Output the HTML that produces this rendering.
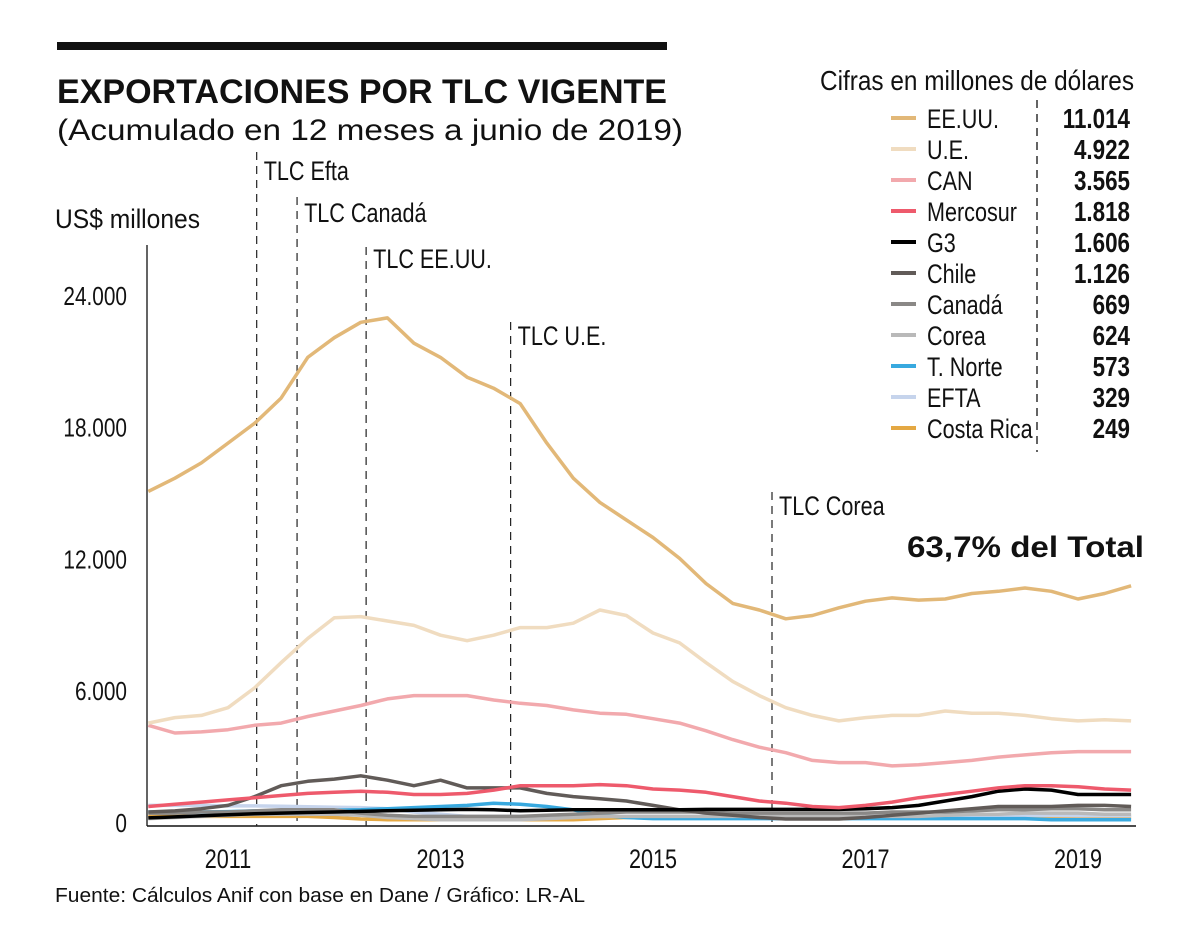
<!DOCTYPE html>
<html><head><meta charset="utf-8"><style>
html,body{margin:0;padding:0;background:#fff}
svg{display:block}
text{font-family:"Liberation Sans Narrow","Liberation Sans",sans-serif;fill:#111}
</style></head><body>
<svg id="chart" width="1200" height="950" viewBox="0 0 1200 950">
<rect x="57" y="42" width="610" height="8" fill="#111"/>
<text x="57" y="103" font-size="34" font-weight="bold" textLength="610" lengthAdjust="spacingAndGlyphs">EXPORTACIONES POR TLC VIGENTE</text>
<text x="57" y="140" font-size="30" textLength="626" lengthAdjust="spacingAndGlyphs">(Acumulado en 12 meses a junio de 2019)</text>
<text x="55" y="228" font-size="27" textLength="145" lengthAdjust="spacingAndGlyphs">US$ millones</text>
<text x="820" y="90" font-size="28" textLength="314" lengthAdjust="spacingAndGlyphs">Cifras en millones de dólares</text>
<text x="907" y="557" font-size="30" font-weight="bold" textLength="237" lengthAdjust="spacingAndGlyphs">63,7% del Total</text>
<text x="55" y="902" font-size="20" textLength="530" lengthAdjust="spacingAndGlyphs" fill="#333">Fuente: Cálculos Anif con base en Dane / Gráfico: LR-AL</text>
<line x1="1037" y1="100" x2="1037" y2="452" stroke="#111" stroke-width="1.3" stroke-dasharray="8,6"/>
<g id="axes"></g><g id="events"></g><g id="series"></g><g id="legend"></g>
</svg>
<script>
const years=[2011,2013,2015,2017,2019];
const yTicks=[0,6000,12000,18000,24000];
const yTickLabels=["0","6.000","12.000","18.000","24.000"];
const eventNames=["TLC Efta","TLC Canadá","TLC EE.UU.","TLC U.E.","TLC Corea"];
const eventTimes=[2011.27,2011.65,2012.3,2013.66,2016.12];
const seriesNames=["EE.UU.","U.E.","CAN","Mercosur","G3","Chile","Canadá","Corea","T. Norte","EFTA","Costa Rica"];
const lastValues=["11.014","4.922","3.565","1.818","1.606","1.126","669","624","573","329","249"];
const seriesColors=["#e2b878","#f0dcc0","#f2a9ad","#ee5a6c","#000000","#615b58","#8a8886","#b9b9b9","#38a9df","#c6d4ec","#e4a843"];
const times=[];for(let i=0;i<38;i++)times.push(2010.25+i*0.25);
const eeuu=[15100,15700,16400,17300,18200,19350,21200,22100,22800,23000,21850,21200,20300,19800,19100,17300,15700,14600,13800,13000,12050,10900,10000,9700,9300,9450,9800,10100,10250,10150,10200,10450,10550,10700,10550,10200,10450,10800];
const ue=[4550,4800,4900,5250,6150,7300,8400,9350,9400,9200,9000,8550,8300,8550,8900,8900,9100,9700,9450,8650,8200,7300,6450,5800,5250,4900,4650,4800,4900,4900,5100,5000,5000,4900,4750,4650,4700,4650];
const can=[4450,4100,4150,4250,4450,4550,4850,5100,5350,5650,5800,5800,5800,5600,5450,5350,5150,5000,4950,4750,4550,4200,3800,3450,3200,2850,2750,2750,2600,2650,2750,2850,3000,3100,3200,3250,3250,3250];
const mercosur=[750,850,950,1050,1150,1250,1350,1400,1450,1400,1300,1300,1350,1500,1700,1700,1700,1750,1700,1550,1500,1400,1200,1000,900,750,700,800,950,1150,1300,1450,1600,1700,1700,1650,1550,1500];
const g3=[230,280,330,380,420,450,480,500,530,560,580,600,620,600,560,580,600,600,600,600,600,620,620,620,620,620,620,650,700,800,1000,1200,1450,1550,1500,1300,1300,1300];
const chile=[500,550,650,800,1200,1700,1900,2000,2150,1950,1700,1950,1600,1600,1600,1350,1200,1100,1000,800,600,450,350,250,180,180,180,250,350,450,550,650,750,750,750,800,800,750];
const canada=[450,450,500,500,550,600,600,600,450,350,300,300,300,300,300,350,400,450,500,500,500,500,450,450,450,450,450,450,500,500,500,550,600,600,650,650,600,600];
const corea=[200,250,300,350,400,400,400,400,350,250,200,150,150,150,150,200,250,300,300,300,300,300,300,300,300,300,300,300,300,300,350,400,400,450,450,450,400,400];
const tnorte=[500,500,500,520,550,550,560,580,600,650,700,750,800,900,850,750,600,350,250,200,200,200,200,200,200,200,200,200,200,200,200,200,200,200,150,150,150,150];
const efta=[800,800,800,780,780,760,740,720,700,650,500,400,300,300,300,300,300,300,300,300,300,300,300,300,300,300,300,300,300,300,300,320,330,340,340,330,330,330];
const costa=[300,300,300,300,300,300,300,250,180,150,150,150,150,150,150,150,150,200,250,250,250,250,250,250,250,250,250,250,250,250,250,250,250,250,250,250,250,250];
const seriesData=[eeuu,ue,can,mercosur,g3,chile,canada,corea,tnorte,efta,costa];

const NS="http://www.w3.org/2000/svg";
function xScale(t){return 228+(t-2011)*106.25;}
function yScale(v){return 823-v*0.02196;}
function mk(tag,attrs,parent,txt){const e=document.createElementNS(NS,tag);for(const k in attrs)e.setAttribute(k,attrs[k]);if(txt!==undefined)e.textContent=txt;parent.appendChild(e);return e;}
function ctext(x,y,attrs,parent,txt){const a=Object.assign({x:0,y:0,transform:'translate('+x+','+y+') scale(0.8,1)'},attrs);return mk('text',a,parent,txt);}
const axes=document.getElementById('axes');
let el=mk('line',{x1:147,y1:245,x2:147,y2:826,stroke:'#111','stroke-width':1.3},axes);


el=mk('line',{x1:147,y1:826,x2:1136,y2:826,stroke:'#111','stroke-width':1.5},axes);


yTicks.forEach((v,i)=>{
  const t=ctext(127,yScale(v)+9,{'font-size':26,'text-anchor':'end'},axes,yTickLabels[i]);
  
  
});
years.forEach(y=>{
  const t=ctext(xScale(y),868,{'font-size':27,'text-anchor':'middle'},axes,String(y));
  
  
});
const evTops=[152,197,247,322,492];
const evLabelY=[180,222,268,345,515];
const ev=document.getElementById('events');
eventTimes.forEach((t,i)=>{
  const x=xScale(t);
  const l=mk('line',{x1:x,y1:evTops[i],x2:x,y2:826,stroke:'#222','stroke-width':1.2,'stroke-dasharray':'8,6'},ev);
  
  
  const tx=ctext(x+7,evLabelY[i],{'font-size':27},ev,eventNames[i]);
  
  
});
const sg=document.getElementById('series');
for(let s=seriesData.length-1;s>=0;s--){
  const d=seriesData[s].map((v,i)=>(i?'L':'M')+xScale(times[i]).toFixed(1)+','+yScale(v).toFixed(1)).join(' ');
  const p=mk('path',{d:d,fill:'none',stroke:seriesColors[s],'stroke-width':3.5,'stroke-linejoin':'round'},sg);
  
  
}
const lg=document.getElementById('legend');
seriesNames.forEach((n,i)=>{
  const y=128+i*31;
  const l=mk('line',{x1:891,y1:y-10,x2:916,y2:y-10,stroke:seriesColors[i],'stroke-width':4},lg);
  
  
  const t=ctext(927,y,{'font-size':27},lg,n);
  
  
  const v=ctext(1130,y,{'font-size':28,'font-weight':'bold','text-anchor':'end'},lg,lastValues[i]);
  
  
});
</script>
</body></html>
